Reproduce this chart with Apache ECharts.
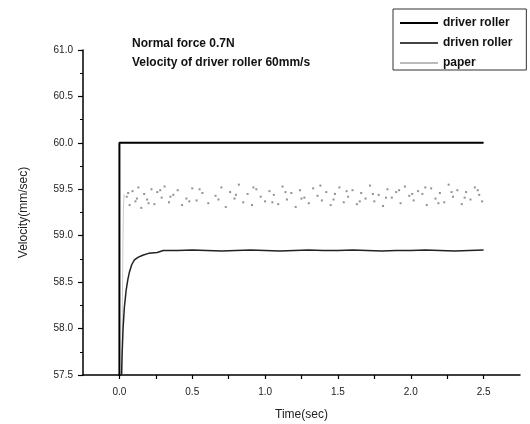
<!DOCTYPE html>
<html><head><meta charset="utf-8">
<script src="https://cdn.jsdelivr.net/npm/echarts@6/dist/echarts.min.js"></script>
<style>html,body{margin:0;padding:0;background:#fff}#c{width:530px;height:424px}</style>
</head><body><div id="c"></div>
<script>
var titleLines = ['Normal force 0.7N', 'Velocity of driver roller 60mm/s'];
var seriesNames = ['driver roller', 'driven roller', 'paper'];
var xName = 'Time(sec)';
var yName = 'Velocity(mm/sec)';

var driverRoller = [[0.0, 57.3], [0.0, 60.0], [0.5, 60.0], [1.0, 60.0], [1.5, 60.0], [2.0, 60.0], [2.5, 60.0]];

var drivenRoller = [[0.012, 57.3], [0.018, 57.7], [0.025, 58.0], [0.034, 58.23], [0.046, 58.41], [0.058, 58.53],
  [0.069, 58.61], [0.085, 58.69], [0.103, 58.74], [0.13, 58.77], [0.16, 58.79], [0.2, 58.81], [0.26, 58.82],
  [0.3, 58.84], [0.4, 58.84], [0.5, 58.845], [0.6, 58.84], [0.7, 58.835], [0.8, 58.84], [0.9, 58.845],
  [1.0, 58.84], [1.1, 58.835], [1.2, 58.84], [1.3, 58.845], [1.4, 58.84], [1.5, 58.84], [1.6, 58.845],
  [1.7, 58.84], [1.8, 58.835], [1.9, 58.84], [2.0, 58.84], [2.1, 58.845], [2.2, 58.84], [2.3, 58.835],
  [2.4, 58.84], [2.5, 58.845]];

var paperRise = [[0.016, 57.3], [0.02, 58.2], [0.024, 58.9], [0.028, 59.3], [0.032, 59.45]];

var paperDots = [[0.05,59.42],[0.07,59.33],[0.09,59.48],[0.11,59.37],[0.13,59.52],[0.15,59.30],[0.17,59.45],
  [0.19,59.39],[0.22,59.50],[0.24,59.34],[0.26,59.47],[0.29,59.41],[0.31,59.53],[0.34,59.36],[0.37,59.44],
  [0.40,59.49],[0.43,59.33],[0.46,59.40],[0.50,59.51],[0.53,59.38],[0.57,59.46],[0.61,59.35],[0.66,59.43],
  [0.70,59.52],[0.73,59.31],[0.76,59.47],[0.79,59.40],[0.82,59.55],[0.85,59.36],[0.88,59.45],[0.91,59.33],
  [0.94,59.50],[0.97,59.42],[1.00,59.37],[1.03,59.48],[1.06,59.44],[1.09,59.34],[1.12,59.53],[1.15,59.39],
  [1.18,59.46],[1.21,59.31],[1.24,59.49],[1.27,59.41],[1.30,59.35],[1.33,59.51],[1.36,59.43],[1.39,59.38],
  [1.42,59.47],[1.45,59.33],[1.48,59.45],[1.51,59.52],[1.54,59.36],[1.57,59.42],[1.60,59.49],[1.63,59.34],
  [1.66,59.46],[1.69,59.40],[1.72,59.54],[1.75,59.37],[1.78,59.44],[1.81,59.32],[1.84,59.50],[1.87,59.41],
  [1.90,59.47],[1.93,59.35],[1.96,59.53],[1.99,59.43],[2.02,59.38],[2.05,59.48],[2.08,59.45],[2.11,59.33],
  [2.14,59.51],[2.17,59.40],[2.20,59.46],[2.23,59.36],[2.26,59.55],[2.29,59.42],[2.32,59.49],[2.35,59.34],
  [2.38,59.47],[2.41,59.39],[2.44,59.52],[2.47,59.44],[2.49,59.37],
  [0.06,59.46],[0.12,59.40],[0.20,59.35],[0.28,59.49],[0.35,59.42],[0.48,59.37],[0.55,59.50],[0.68,59.39],
  [0.80,59.44],[0.92,59.52],[1.05,59.36],[1.14,59.47],[1.25,59.40],[1.38,59.54],[1.47,59.39],[1.56,59.48],
  [1.65,59.37],[1.74,59.45],[1.83,59.41],[1.92,59.49],[2.01,59.45],[2.10,59.52],[2.19,59.35],[2.28,59.47],
  [2.37,59.41],[2.46,59.49]];

var FONT = '"Liberation Sans", Arial, sans-serif';
var chart = echarts.init(document.getElementById('c'), null, {renderer: 'canvas'});
chart.setOption({
  animation: false,
  backgroundColor: '#fff',
  title: {
    text: titleLines.join('\n'), left: 132, top: 34, padding: 0,
    textStyle: {fontFamily: FONT, fontSize: 12, fontWeight: 'bold', color: '#111', lineHeight: 19}
  },
  legend: {
    orient: 'vertical', left: 393, top: 9, padding: [7, 14, 0, 7],
    borderColor: '#333', borderWidth: 1, itemGap: 6, itemWidth: 38, itemHeight: 2,
    textStyle: {fontFamily: FONT, fontSize: 12, fontWeight: 'bold', color: '#111', lineHeight: 14},
    data: [
      {name: seriesNames[0], icon: 'rect', itemStyle: {color: '#000'}},
      {name: seriesNames[1], icon: 'rect', itemStyle: {color: '#444'}},
      {name: seriesNames[2], icon: 'rect', itemStyle: {color: '#aaa'}}
    ]
  },
  grid: {left: 83, right: 10, top: 50, bottom: 49, containLabel: false, outerBoundsMode: 'none'},
  xAxis: {
    type: 'value', min: -0.25, max: 2.75, interval: 0.25,
    name: xName, nameLocation: 'middle', nameGap: 34,
    nameTextStyle: {fontFamily: FONT, fontSize: 12, color: '#222'},
    axisLine: {onZero: false, lineStyle: {color: '#000', width: 1.5}},
    axisTick: {inside: false, length: 4, lineStyle: {color: '#000', width: 1.2}},
    axisLabel: {
      fontFamily: FONT, fontSize: 10, color: '#222', margin: 12,
      showMinLabel: false, showMaxLabel: false,
      formatter: function (v) {
        var r = Math.round(v * 2);
        if (Math.abs(v * 2 - r) > 1e-6 || v < -1e-6 || v > 2.5 + 1e-6) return '';
        return (r / 2).toFixed(1);
      }
    },
    splitLine: {show: false}
  },
  yAxis: {
    type: 'value', min: 57.5, max: 61.0, interval: 0.5,
    name: yName, nameLocation: 'middle', nameGap: 53,
    nameTextStyle: {fontFamily: FONT, fontSize: 12, color: '#222'},
    axisLine: {show: true, onZero: false, lineStyle: {color: '#000', width: 1.5}},
    axisTick: {show: true, inside: false, length: 5, lineStyle: {color: '#000', width: 1.2}},
    minorTick: {show: true, splitNumber: 2, length: 3, lineStyle: {color: '#000', width: 1}},
    axisLabel: {fontFamily: FONT, fontSize: 10, color: '#222', margin: 10,
      formatter: function (v) { return v.toFixed(1); }},
    splitLine: {show: false}
  },
  series: [
    {name: seriesNames[0], type: 'line', data: driverRoller, showSymbol: false, symbol: 'none',
      lineStyle: {color: '#000', width: 2}, itemStyle: {color: '#000'}, z: 3},
    {name: seriesNames[1], type: 'line', data: drivenRoller, showSymbol: false, symbol: 'none',
      lineStyle: {color: '#222', width: 1.5}, itemStyle: {color: '#222'}, z: 3},
    {name: seriesNames[2], type: 'scatter', data: paperDots, symbol: 'rect', symbolSize: 2,
      itemStyle: {color: '#777'}, z: 2},
    {name: seriesNames[2], type: 'line', data: paperRise, showSymbol: false, symbol: 'none',
      lineStyle: {color: '#999', width: 1, type: 'dotted'}, itemStyle: {color: '#999'}, z: 2}
  ]
});
</script>
</body></html>
